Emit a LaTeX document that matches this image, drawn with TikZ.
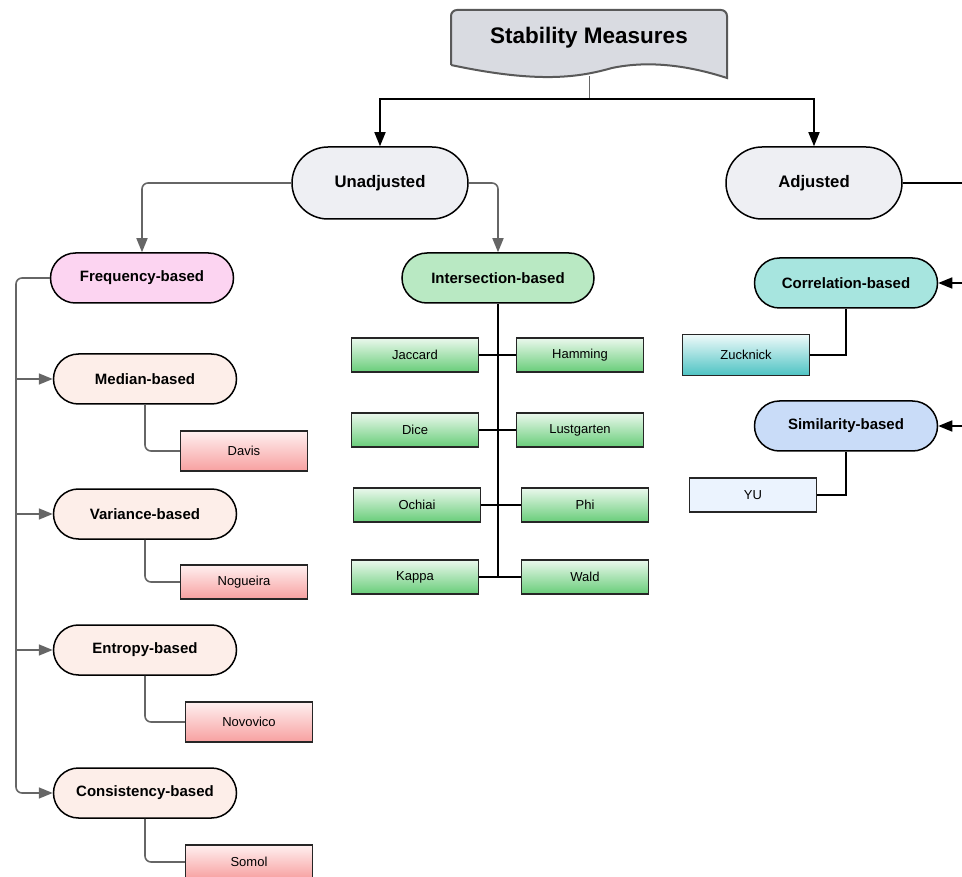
\documentclass[tikz,border=0pt]{standalone}
\usepackage{fontspec}
\setmainfont{Liberation Sans}
\usetikzlibrary{arrows.meta,shapes.misc}

\definecolor{titlegray}{HTML}{D9DBE1}
\definecolor{rootgray}{HTML}{EEEFF3}
\definecolor{freqpink}{HTML}{FCD4F1}
\definecolor{intergreen}{HTML}{B9E9C3}
\definecolor{peach}{HTML}{FDEEE9}
\definecolor{redtop}{HTML}{FFF0F0}
\definecolor{redbot}{HTML}{F7A0A0}
\definecolor{greentop}{HTML}{EBF8ED}
\definecolor{greenbot}{HTML}{68CD79}
\definecolor{tealnode}{HTML}{A7E5DF}
\definecolor{tealtop}{HTML}{EFFAFA}
\definecolor{tealbot}{HTML}{4DC3C3}
\definecolor{bluenode}{HTML}{C9DCF8}
\definecolor{bluebox}{HTML}{EBF3FE}
\definecolor{linegray}{HTML}{666666}

\tikzset{
  group/.style={rounded rectangle, draw=black, line width=1.5pt, inner sep=0pt,
    minimum width=183pt, minimum height=50pt, font=\fontsize{15}{17}\selectfont\bfseries},
  branch/.style={group, fill=rootgray, minimum width=176pt, minimum height=72pt,
    font=\fontsize{16.7}{19}\selectfont\bfseries},
  method/.style={rectangle, draw=black!85, line width=1.4pt, inner sep=0pt,
    minimum width=127pt, minimum height=34pt, font=\fontsize{13}{15}\selectfont},
  redbox/.style={method, top color=redtop, bottom color=redbot},
  greenbox/.style={method, top color=greentop, bottom color=greenbot},
  blackline/.style={draw=black, line width=1.6pt},
  blackarrow/.style={blackline, -{Triangle[length=14pt,width=11pt]}},
  grayline/.style={draw=linegray, line width=1.6pt},
  grayarrow/.style={grayline, -{Triangle[length=14pt,width=11pt]}}
}

\begin{document}
\begin{tikzpicture}[x=1pt,y=-1pt]
  \useasboundingbox (0,0) rectangle (962,877);
  \clip (0,0) rectangle (962,877);

  % title
  \draw[fill=titlegray, draw=black!65, line width=2pt, rounded corners=6]
    (451,65) -- (451,10) -- (727,10) [sharp corners] -- (727,78)
    .. controls (690,66) and (650,60) .. (612,68)
    .. controls (580,77) and (540,84) .. (451,65);
  \node[font=\fontsize{22.5}{26}\selectfont\bfseries] (title) at (589,38) {Stability Measures};
  \coordinate (titlebot) at (589,76);
  \coordinate (split) at (589,99);

  % first level
  \node[branch] (unadj) at (380,183) {Unadjusted};
  \node[branch] (adj) at (814,183) {Adjusted};

  \draw[grayline, line width=1pt] (titlebot) -- (split);
  \draw[blackarrow] (split) -| (unadj.north);
  \draw[blackarrow] (split) -| (adj.north);

  % unadjusted side
  \node[group, fill=freqpink] (freq) at (142,278) {Frequency-based};
  \node[group, fill=intergreen, minimum width=192pt] (inter) at (498,278) {Intersection-based};

  \draw[grayarrow, rounded corners=6] (unadj.west) -| (freq.north);
  \draw[grayarrow, rounded corners=6] (unadj.east) -| (inter.north);

  \node[group, fill=peach] (median) at (145,379) {Median-based};
  \node[group, fill=peach] (variance) at (145,514) {Variance-based};
  \node[group, fill=peach] (entropy) at (145,650) {Entropy-based};
  \node[group, fill=peach] (consist) at (145,793) {Consistency-based};

  \node[redbox, minimum height=40pt] (davis) at (244,451) {Davis};
  \node[redbox] (nogueira) at (244,582) {Nogueira};
  \node[redbox, minimum height=40pt] (novovico) at (249,722) {Novovico};
  \node[redbox] (somol) at (249,862) {Somol};

  \coordinate (spine) at (16,0);
  \draw[grayarrow, rounded corners=6] (freq.west) -- (freq.west -| spine) |- (consist.west);
  \foreach \n in {median,variance,entropy}
    \draw[grayarrow] (\n.west -| spine) -- (\n.west);

  \draw[grayline, rounded corners=6] (median.south) |- (davis.west);
  \draw[grayline, rounded corners=6] (variance.south) |- (nogueira.west);
  \draw[grayline, rounded corners=6] (entropy.south) |- (novovico.west);
  \draw[grayline, rounded corners=6] (consist.south) |- (somol.west);

  \node[greenbox] (jaccard) at (415,355) {Jaccard};
  \node[greenbox] (hamming) at (580,355) {Hamming};
  \node[greenbox] (dice) at (415,430) {Dice};
  \node[greenbox] (lustgarten) at (580,430) {Lustgarten};
  \node[greenbox] (ochiai) at (417,505) {Ochiai};
  \node[greenbox] (phi) at (585,505) {Phi};
  \node[greenbox] (kappa) at (415,577) {Kappa};
  \node[greenbox] (wald) at (585,577) {Wald};

  \draw[blackline] (inter.south) -- (inter.south |- kappa.east);
  \draw[blackline] (jaccard.east) -- (hamming.west);
  \draw[blackline] (dice.east) -- (lustgarten.west);
  \draw[blackline] (ochiai.east) -- (phi.west);
  \draw[blackline] (kappa.east) -- (wald.west);

  % adjusted side
  \coordinate (adjout) at (962,183);
  \draw[blackline] (adj.east) -- (adjout);

  \node[group, fill=tealnode] (corr) at (846,283) {Correlation-based};
  \node[group, fill=bluenode] (simil) at (846,426) {Similarity-based};
  \node[method, top color=tealtop, bottom color=tealbot, minimum height=41pt] (zucknick) at (746,355) {Zucknick};
  \node[method, fill=bluebox] (yu) at (753,495) {YU};

  \coordinate (corrin) at (962,283);
  \coordinate (similin) at (962,426);
  \draw[blackarrow] (corrin) -- (corr.east);
  \draw[blackarrow] (similin) -- (simil.east);
  \draw[blackline] (corr.south) |- (zucknick.east);
  \draw[blackline] (simil.south) |- (yu.east);
\end{tikzpicture}
\end{document}
